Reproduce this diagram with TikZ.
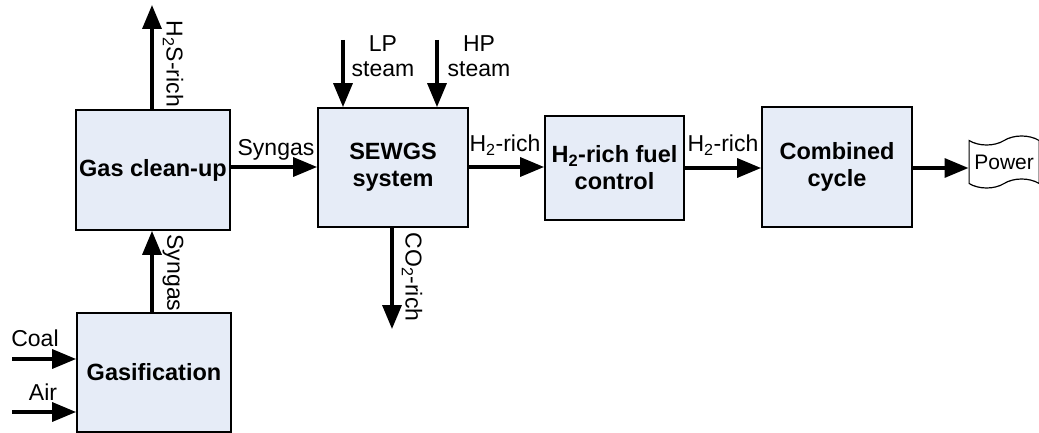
\documentclass[tikz,border=0pt]{standalone}
\usepackage{fontspec}
\setmainfont{Liberation Sans}
\usetikzlibrary{arrows.meta,shapes.symbols}
\definecolor{boxfill}{HTML}{E6ECF7}
\tikzset{
  blk/.style={draw=black, line width=1.8pt, fill=boxfill, inner sep=0pt, font=\fontsize{23.5}{27}\selectfont\bfseries, align=center},
  flow/.style={line width=3.4pt, -{Triangle[length=24pt,width=19pt]}},
  lbl/.style={font=\fontsize{23}{25}\selectfont, inner sep=0pt, align=center},
}
\begin{document}
\begin{tikzpicture}[x=1pt,y=-1pt]
\useasboundingbox (0,0) rectangle (1039,433);
% boxes
\node[blk, minimum width=154pt, minimum height=120pt] (clean) at (153,170) {Gas clean-up};
\node[blk, minimum width=154pt, minimum height=119pt] (gasif) at (154,372.5) {Gasification};
\node[blk, minimum width=150pt, minimum height=119pt] (sewgs) at (393,167.5) {SEWGS\\system};
\node[blk, minimum width=139pt, minimum height=104pt] (fuel) at (614.5,168) {H\textsubscript{2}-rich fuel\\control};
\node[blk, minimum width=150pt, minimum height=120pt] (cc) at (837,167) {Combined\\cycle};
\node[tape, tape bend height=9pt, draw=black, line width=1.2pt, fill=white, minimum width=70pt, minimum height=52pt, inner sep=0pt, font=\fontsize{21}{24}\selectfont, anchor=west] (power) at (968.5,162) {Power};
% free ends
\coordinate (h2sEnd) at (152,5);
\coordinate (coalStart) at (12,359);
\coordinate (airStart) at (12,412);
\coordinate (lpStart) at (343,40);
\coordinate (hpStart) at (437,40);
\coordinate (co2End) at (392,329);
% connectors
\draw[flow] (clean.north -| h2sEnd) -- (h2sEnd);
\draw[flow] (gasif.north -| h2sEnd) -- (clean.south -| h2sEnd);
\draw[flow] (coalStart) -- (coalStart -| gasif.west);
\draw[flow] (airStart) -- (airStart -| gasif.west);
\draw[flow] (clean.east |- 0,167) -- (sewgs.west |- 0,167);
\draw[flow] (lpStart) -- (lpStart |- sewgs.north);
\draw[flow] (hpStart) -- (hpStart |- sewgs.north);
\draw[flow] (sewgs.south -| co2End) -- (co2End);
\draw[flow] (sewgs.east |- 0,167) -- (fuel.west |- 0,167);
\draw[flow] (fuel.east |- 0,168) -- (cc.west |- 0,168);
\draw[flow] (cc.east |- 0,168) -- (power.west |- 0,168);
% labels
\node[lbl, rotate=-90] (lh2s) at (173,64) {H\textsubscript{2}S-rich};
\node[lbl, rotate=-90] (lsyn1) at (173,273) {Syngas};
\node[lbl] (lcoal) at (35,338) {Coal};
\node[lbl] (lair) at (43,392) {Air};
\node[lbl] (lsyn2) at (276,150) {Syngas};
\node[lbl] (llp) at (383,56) {LP\\steam};
\node[lbl] (lhp) at (479,56) {HP\\steam};
\node[lbl] (lh2a) at (505,145) {H\textsubscript{2}-rich};
\node[lbl] (lh2b) at (723,145) {H\textsubscript{2}-rich};
\node[lbl, rotate=-90] (lco2) at (412,277) {CO\textsubscript{2}-rich};
\end{tikzpicture}
\end{document}
